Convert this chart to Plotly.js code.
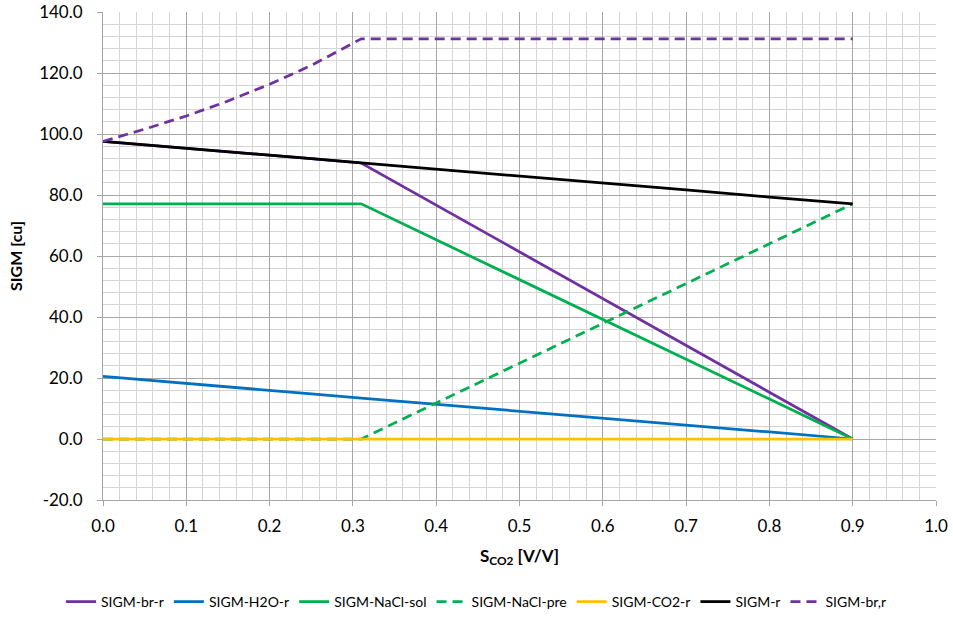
<!DOCTYPE html>
<html><head><meta charset="utf-8">
<script src="https://cdn.plot.ly/plotly-3.0.1.min.js"></script>
<style>html,body{margin:0;padding:0;background:#fff}#c{width:953px;height:617px}</style>
</head><body><div id="c"></div>
<script>
const sco2 = [0, 0.05, 0.1, 0.15, 0.2, 0.25, 0.31, 0.4, 0.5, 0.6, 0.7, 0.8, 0.9];
const sigmBrR    = [97.6, 96.5, 95.3, 94.2, 93.0, 91.9, 90.5, 76.7, 61.4, 46.0, 30.7, 15.3, 0];
const sigmH2OR   = [20.5, 19.4, 18.2, 17.1, 15.9, 14.8, 13.4, 11.4, 9.1, 6.8, 4.6, 2.3, 0];
const sigmNaClSol= [77.1, 77.1, 77.1, 77.1, 77.1, 77.1, 77.1, 65.3, 52.3, 39.2, 26.1, 13.1, 0];
const sigmNaClPre= [0, 0, 0, 0, 0, 0, 0, 11.8, 24.8, 37.9, 51.0, 64.0, 77.1];
const sigmCO2R   = [0, 0, 0, 0, 0, 0, 0, 0, 0, 0, 0, 0, 0];
const sigmR      = [97.6, 96.5, 95.3, 94.2, 93.0, 91.9, 90.5, 88.5, 86.2, 83.9, 81.7, 79.3, 77.1];
const sigmBr     = [97.6, 101.6, 105.9, 110.8, 116.3, 122.5, 131.2, 131.2, 131.2, 131.2, 131.2, 131.2, 131.2];

const yTickVals   = [-20, 0, 20, 40, 60, 80, 100, 120, 140];
const yTickLabels = ["-20.0","0.0","20.0","40.0","60.0","80.0","100.0","120.0","140.0"];
const xTickVals   = [0, 0.1, 0.2, 0.3, 0.4, 0.5, 0.6, 0.7, 0.8, 0.9, 1.0];
const xTickLabels = ["0.0","0.1","0.2","0.3","0.4","0.5","0.6","0.7","0.8","0.9","1.0"];

const names = ["SIGM-br-r","SIGM-H2O-r","SIGM-NaCl-sol","SIGM-NaCl-pre","SIGM-CO2-r","SIGM-r","SIGM-br,r"];
const series = [sigmBrR, sigmH2OR, sigmNaClSol, sigmNaClPre, sigmCO2R, sigmR, sigmBr];
const colors = ["#7030A0","#0070C0","#00B050","#00B050","#FFC000","#000000","#7030A0"];
const dashes = ["solid","solid","solid","10px,6px","solid","solid","10px,6px"];

const traces = series.map((ys,i)=>({
  x: sco2, y: ys, name: names[i], type:"scatter", mode:"lines",
  line:{color:colors[i], width:2.75, dash:dashes[i]}
}));

const fam = "Lato, 'Open Sans', sans-serif";
const layout = {
  width:953, height:617,
  margin:{l:103, r:17, t:12, b:117, autoexpand:false},
  paper_bgcolor:"#fff", plot_bgcolor:"#fff",
  font: {family:fam, size:16, color:"#000"},
  showlegend:true,
  legend:{orientation:"h", xref:"container", yref:"container", x:0.5, xanchor:"center", y:(617-602)/617, yanchor:"middle",
          font:{family:fam,size:14,color:"#000"}, itemwidth:30, tracegroupgap:0},
  xaxis:{
    range:[0,1.0], tickmode:"array", tickvals:xTickVals, ticktext:xTickLabels,
    showgrid:true, gridcolor:"#a6a6a6", gridwidth:1,
    minor:{dtick:0.02, tick0:0, showgrid:true, gridcolor:"#d4d4d4", gridwidth:1},
    ticks:"outside", ticklen:5, tickcolor:"#a6a6a6", ticklabelstandoff:6,
    showline:true, linecolor:"#a6a6a6", zeroline:false,
    title:{text:"<b>S<sub>CO2</sub> [V/V]</b>", font:{family:fam,size:17,color:"#000"}, standoff:14},
    tickfont:{family:fam,size:17,color:"#000"}
  },
  yaxis:{
    range:[-20,140], tickmode:"array", tickvals:yTickVals, ticktext:yTickLabels,
    showgrid:true, gridcolor:"#a6a6a6", gridwidth:1,
    minor:{dtick:4, tick0:0, showgrid:true, gridcolor:"#d4d4d4", gridwidth:1},
    ticks:"outside", ticklen:5, tickcolor:"#a6a6a6", ticklabelstandoff:11,
    showline:true, linecolor:"#a6a6a6", zeroline:false,
    title:{text:"<b>SIGM [cu]</b>", font:{family:fam,size:16,color:"#000"}, standoff:12},
    tickfont:{family:fam,size:17,color:"#000"}
  }
};
Plotly.newPlot("c", traces, layout, {displayModeBar:false, staticPlot:true});
</script></body></html>
